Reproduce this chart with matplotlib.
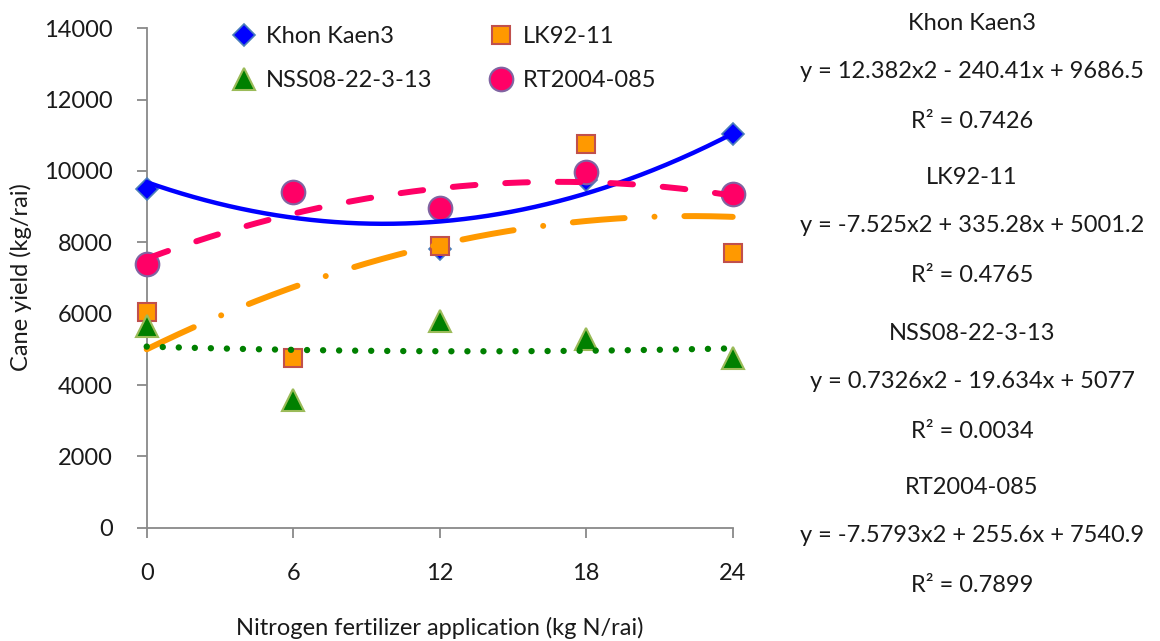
import matplotlib
matplotlib.use("Agg")
import matplotlib.pyplot as plt
import numpy as np

plt.rcParams['font.family'] = ['Lato', 'DejaVu Sans']

# ---------------- data ----------------
x_vals = [0, 6, 12, 18, 24]
x_ticks = [0, 6, 12, 18, 24]
y_ticks = [0, 2000, 4000, 6000, 8000, 10000, 12000, 14000]

series_names = ["Khon Kaen3", "LK92-11", "NSS08-22-3-13", "RT2004-085"]
kk3 = [9500, 9400, 7800, 9750, 11050]
lk92 = [6050, 4750, 7900, 10750, 7700]
nss08 = [5650, 3580, 5800, 5300, 4750]
rt2004 = [7400, 9420, 8970, 9980, 9350]

# polynomial trendline coefficients (a*x^2 + b*x + c) as printed
kk3_coef = [12.382, -240.41, 9686.5]
lk92_coef = [-7.525, 335.28, 5001.2]
nss08_coef = [0.7326, -19.634, 5077]
rt2004_coef = [-7.5793, 255.6, 7540.9]

eq_texts = ["y = 12.382x2 - 240.41x + 9686.5",
            "y = -7.525x2 + 335.28x + 5001.2",
            "y = 0.7326x2 - 19.634x + 5077",
            "y = -7.5793x2 + 255.6x + 7540.9"]
r2_texts = ["R² = 0.7426", "R² = 0.4765", "R² = 0.0034", "R² = 0.7899"]

# ---------------- figure ----------------
W, H = 1160, 641
fig = plt.figure(figsize=(W / 100, H / 100), dpi=100)
ax = fig.add_axes([146.7 / W, 1 - 527.7 / H, (732.7 - 146.7) / W, (527.7 - 28.3) / H])

FS = 17
TXT = '#1a1a1a'
gray = '#898989'

styles = [
    dict(marker='D', ms=11, mfc='#0000FF', mec='#4A7EBB', mew=1.2),
    dict(marker='s', ms=13, mfc='#FF9900', mec='#C0504D', mew=1.5),
    dict(marker='^', ms=16, mfc='#008000', mec='#9BBB59', mew=1.5),
    dict(marker='o', ms=17, mfc='#FF0066', mec='#8064A2', mew=1.5),
]
data = [kk3, lk92, nss08, rt2004]

handles = []
for i, (vals, st) in enumerate(zip(data, styles)):
    h, = ax.plot(x_vals, vals, linestyle='none', clip_on=False, zorder=3 + i * 0.1,
                 label=series_names[i], **st)
    handles.append(h)

xs = np.linspace(0, 24, 300)
# blue solid
ax.plot(xs, np.polyval(kk3_coef, xs), color='#0000FF', lw=3.2, solid_capstyle='round',
        zorder=5, clip_on=False)
# pink dashed
l, = ax.plot(xs, np.polyval(rt2004_coef, xs), color='#FF0066', lw=4.3, zorder=5,
             clip_on=False, dash_capstyle='round')
l.set_dashes([3.8, 5.0])
# orange long dash dot
l, = ax.plot(xs, np.polyval(lk92_coef, xs), color='#FF9900', lw=4.3, zorder=5,
             clip_on=False, dash_capstyle='round')
l.set_dashes([8.7, 5.0, 0.01, 5.0])
# green dotted
l, = ax.plot(xs, np.polyval(nss08_coef, xs), color='#008000', lw=4.6, zorder=5,
             clip_on=False, dash_capstyle='round')
l.set_dashes([0.01, 2.5])

ax.set_xlim(0, 24)
ax.set_ylim(0, 14000)
ax.set_xticks(x_ticks)
ax.set_yticks(y_ticks)
ax.set_xticklabels([str(v) for v in x_ticks])
ax.set_yticklabels([str(v) for v in y_ticks])

for s in ['top', 'right']:
    ax.spines[s].set_visible(False)
for s in ['left', 'bottom']:
    ax.spines[s].set_color(gray)
    ax.spines[s].set_linewidth(1.3)
ax.tick_params(axis='both', colors=gray, width=1.3, length=7.2, labelcolor=TXT,
               labelsize=FS)
ax.tick_params(axis='x', pad=18)
ax.tick_params(axis='y', pad=17)

ax.set_ylabel("Cane yield (kg/rai)", fontsize=FS, color=TXT, va='center')
ax.set_xlabel("Nitrogen fertilizer application (kg N/rai)", fontsize=FS, color=TXT,
              va='center')
ax.yaxis.set_label_coords(21 / W, 1 - 277 / H, transform=fig.transFigure)
ax.xaxis.set_label_coords(440 / W, 1 - 628 / H, transform=fig.transFigure)

# legend in row-major order like the reference
leg_handles = [handles[0], handles[2], handles[1], handles[3]]
leg = ax.legend(handles=leg_handles, ncol=2, frameon=False, fontsize=FS,
                loc='upper left', bbox_to_anchor=(232 / W, 1 - 26 / H),
                bbox_transform=fig.transFigure, borderpad=0, borderaxespad=0,
                handlelength=1.0, handletextpad=0.43, columnspacing=2.4,
                labelspacing=0.97)
for t in leg.get_texts():
    t.set_color(TXT)

# right-side equation block
names_y = [23, 177, 333, 487]
cx = 972
for i in range(4):
    y0 = names_y[i]
    fig.text(cx / W, 1 - y0 / H, series_names[i], ha='center', va='center',
             fontsize=FS, color=TXT)
    fig.text(cx / W, 1 - (y0 + 49) / H, eq_texts[i], ha='center', va='center',
             fontsize=FS, color=TXT)
    fig.text(cx / W, 1 - (y0 + 98) / H, r2_texts[i], ha='center', va='center',
             fontsize=FS, color=TXT)

fig.savefig("out.png", dpi=100)
